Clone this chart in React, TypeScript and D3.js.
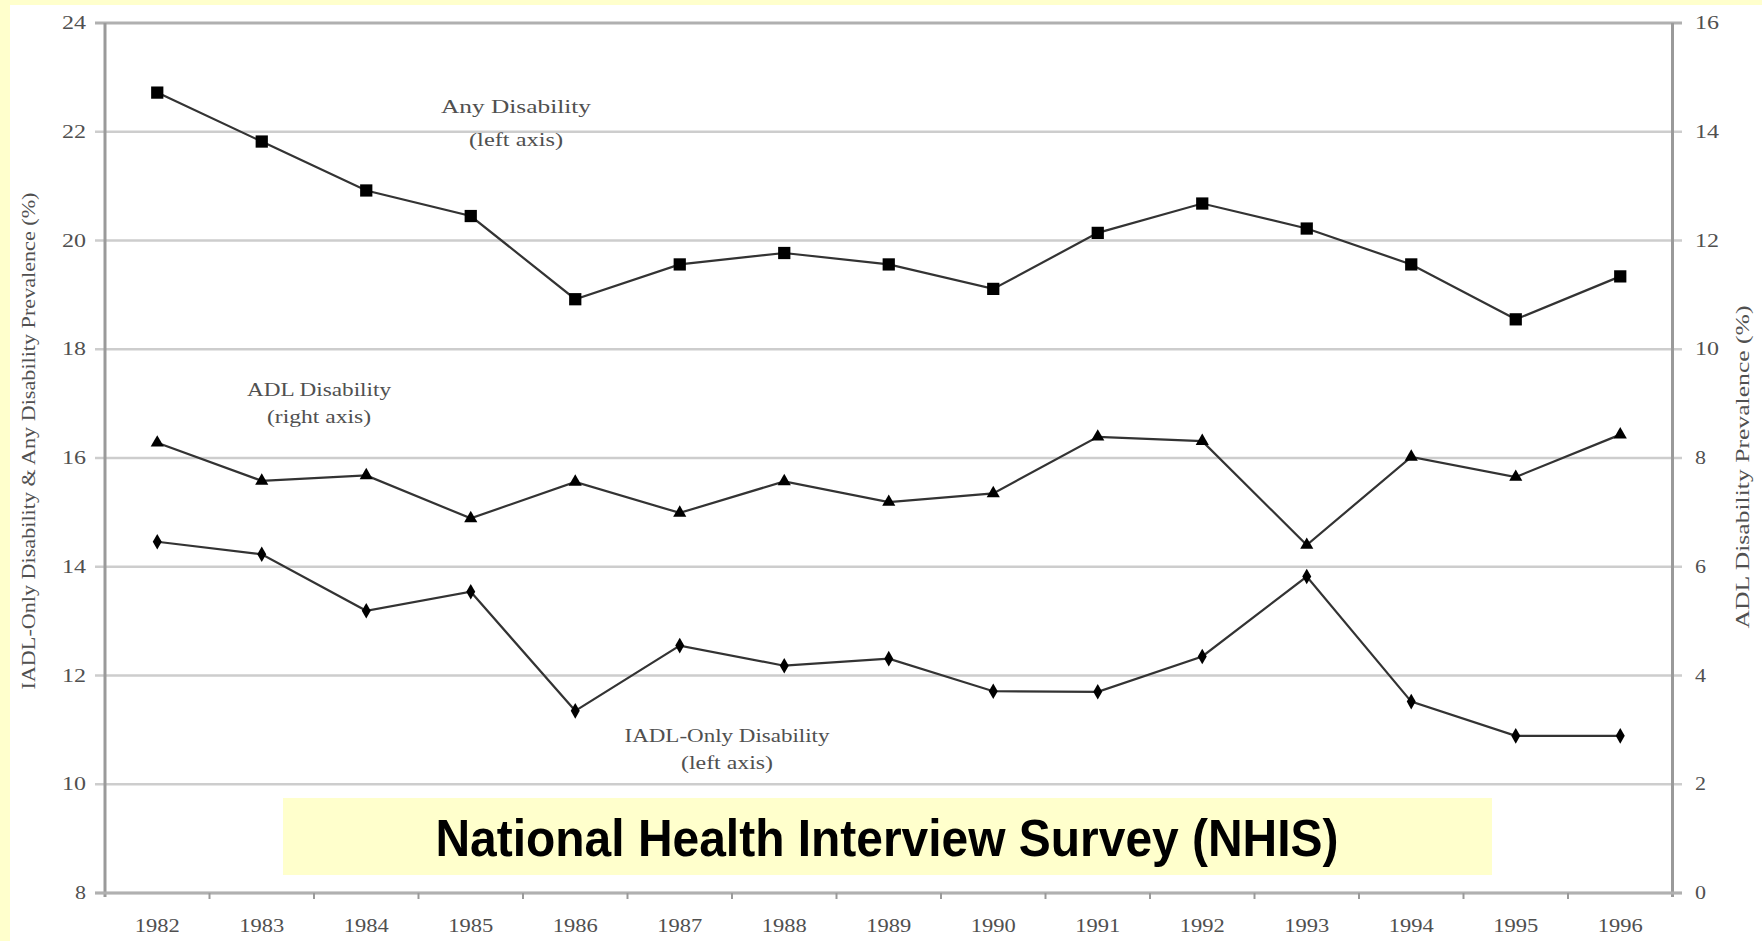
import React from "react";
import * as d3 from "d3";

const years = ["1982","1983","1984","1985","1986","1987","1988","1989","1990","1991","1992","1993","1994","1995","1996"];
const anyDisability = [22.72,21.82,20.92,20.45,18.92,19.56,19.77,19.56,19.11,20.14,20.68,20.22,19.56,18.55,19.34];
const adlDisability = [8.28,7.58,7.68,6.89,7.56,6.99,7.57,7.19,7.35,8.39,8.31,6.40,8.02,7.65,8.43];
const iadlOnly = [14.46,14.23,13.19,13.54,11.35,12.55,12.18,12.31,11.71,11.70,12.35,13.82,11.52,10.89,10.89];
const leftTicks = [8,10,12,14,16,18,20,22,24];
const rightTicks = [0,2,4,6,8,10,12,14,16];

const W = 1762, H = 941;
const L = 105, R = 1672.5, T = 23, B = 893;

export default function App() {
  const x = d3.scaleBand<string>().domain(years).range([L, R]);
  const cx = (y: string) => (x(y) as number) + x.bandwidth() / 2;
  const yL = d3.scaleLinear().domain([8, 24]).range([B, T]);
  const yR = d3.scaleLinear().domain([0, 16]).range([B, T]);

  const lineL = d3.line<number>().x((_, i) => cx(years[i])).y((v) => yL(v));
  const lineR = d3.line<number>().x((_, i) => cx(years[i])).y((v) => yR(v));

  const sq = d3.symbol().type(d3.symbolSquare).size(150)()!;
  const tri = d3.symbol().type(d3.symbolTriangle).size(75)()!;
  const dia = d3.symbol().type(d3.symbolDiamond).size(70)()!;

  const boundaries = years.map((y) => x(y) as number).slice(1);
  const serif = "'Liberation Serif', 'Times New Roman', serif";
  const textCol = "#505050";

  return (
    <svg width={W} height={H} style={{ position: "absolute", left: 0, top: 0 }}>
      <rect x={0} y={0} width={W} height={H} fill="#FFFFCC" />
      <rect x={10} y={5} width={W - 10} height={H - 5} fill="#ffffff" />

      {/* gridlines */}
      {leftTicks.map((t) => (
        <line key={"g" + t} x1={95} x2={1682} y1={yL(t)} y2={yL(t)}
          stroke={t === 24 ? "#b0b0b0" : "#cdcdcd"} strokeWidth={t === 24 ? 3 : 2.5} />
      ))}

      {/* axes */}
      <line x1={L} x2={L} y1={T} y2={B + 4} stroke="#9a9a9a" strokeWidth={3} />
      <line x1={R} x2={R} y1={T} y2={B + 4} stroke="#9a9a9a" strokeWidth={3} />
      <line x1={95} x2={1682} y1={B} y2={B} stroke="#b0b0b0" strokeWidth={3} />
      {boundaries.map((b, i) => (
        <line key={"tk" + i} x1={b} x2={b} y1={B} y2={B + 6} stroke="#9a9a9a" strokeWidth={2} />
      ))}

      {/* left tick labels */}
      {leftTicks.map((t) => (
        <text key={"lt" + t} x={86} y={yL(t) + 6} textAnchor="end" fontFamily={serif}
          fontSize={18} fill={textCol} textLength={t >= 10 ? 24 : 11} lengthAdjust="spacingAndGlyphs">{t}</text>
      ))}
      {rightTicks.map((t) => (
        <text key={"rt" + t} x={1695} y={yR(t) + 6} textAnchor="start" fontFamily={serif}
          fontSize={18} fill={textCol} textLength={t >= 10 ? 24 : 11} lengthAdjust="spacingAndGlyphs">{t}</text>
      ))}
      {years.map((y) => (
        <text key={"yr" + y} x={cx(y)} y={932} textAnchor="middle" fontFamily={serif}
          fontSize={18} fill={textCol} textLength={45} lengthAdjust="spacingAndGlyphs">{y}</text>
      ))}

      {/* axis titles */}
      <text transform={`translate(31,441) rotate(-90)`} textAnchor="middle" dominantBaseline="middle"
        fontFamily={serif} fontSize={19} fill={textCol} textLength={497} lengthAdjust="spacingAndGlyphs">
        IADL-Only Disability &amp; Any Disability Prevalence (%)
      </text>
      <text transform={`translate(1745,467) rotate(-90)`} textAnchor="middle" dominantBaseline="middle"
        fontFamily={serif} fontSize={19} fill={textCol} textLength={323} lengthAdjust="spacingAndGlyphs">
        ADL Disability Prevalence (%)
      </text>

      {/* series */}
      <path d={lineL(anyDisability)!} fill="none" stroke="#333" strokeWidth={2.2} />
      <path d={lineR(adlDisability)!} fill="none" stroke="#333" strokeWidth={2.2} />
      <path d={lineL(iadlOnly)!} fill="none" stroke="#333" strokeWidth={2.2} />
      {anyDisability.map((v, i) => (
        <path key={"s" + i} d={sq} transform={`translate(${cx(years[i])},${yL(v)})`} fill="#000" />
      ))}
      {adlDisability.map((v, i) => (
        <path key={"t" + i} d={tri} transform={`translate(${cx(years[i])},${yR(v)})`} fill="#000" />
      ))}
      {iadlOnly.map((v, i) => (
        <path key={"d" + i} d={dia} transform={`translate(${cx(years[i])},${yL(v)})`} fill="#000" />
      ))}

      {/* annotations */}
      <text x={516} y={113} textAnchor="middle" fontFamily={serif} fontSize={19} fill={textCol}
        textLength={150} lengthAdjust="spacingAndGlyphs">Any Disability</text>
      <text x={516} y={146} textAnchor="middle" fontFamily={serif} fontSize={19} fill={textCol}
        textLength={94} lengthAdjust="spacingAndGlyphs">(left axis)</text>
      <text x={319} y={396} textAnchor="middle" fontFamily={serif} fontSize={18} fill={textCol}
        textLength={144} lengthAdjust="spacingAndGlyphs">ADL Disability</text>
      <text x={319} y={423} textAnchor="middle" fontFamily={serif} fontSize={18} fill={textCol}
        textLength={104} lengthAdjust="spacingAndGlyphs">(right axis)</text>
      <text x={727} y={742} textAnchor="middle" fontFamily={serif} fontSize={18} fill={textCol}
        textLength={205} lengthAdjust="spacingAndGlyphs">IADL-Only Disability</text>
      <text x={727} y={769} textAnchor="middle" fontFamily={serif} fontSize={18} fill={textCol}
        textLength={92} lengthAdjust="spacingAndGlyphs">(left axis)</text>

      {/* NHIS box */}
      <rect x={283} y={798} width={1209} height={77} fill="#FFFFCC" />
      <text x={887} y={856} textAnchor="middle" fontFamily="'Liberation Sans', Arial, sans-serif"
        fontWeight="bold" fontSize={52} fill="#000" textLength={903} lengthAdjust="spacingAndGlyphs">
        National Health Interview Survey (NHIS)
      </text>
    </svg>
  );
}
